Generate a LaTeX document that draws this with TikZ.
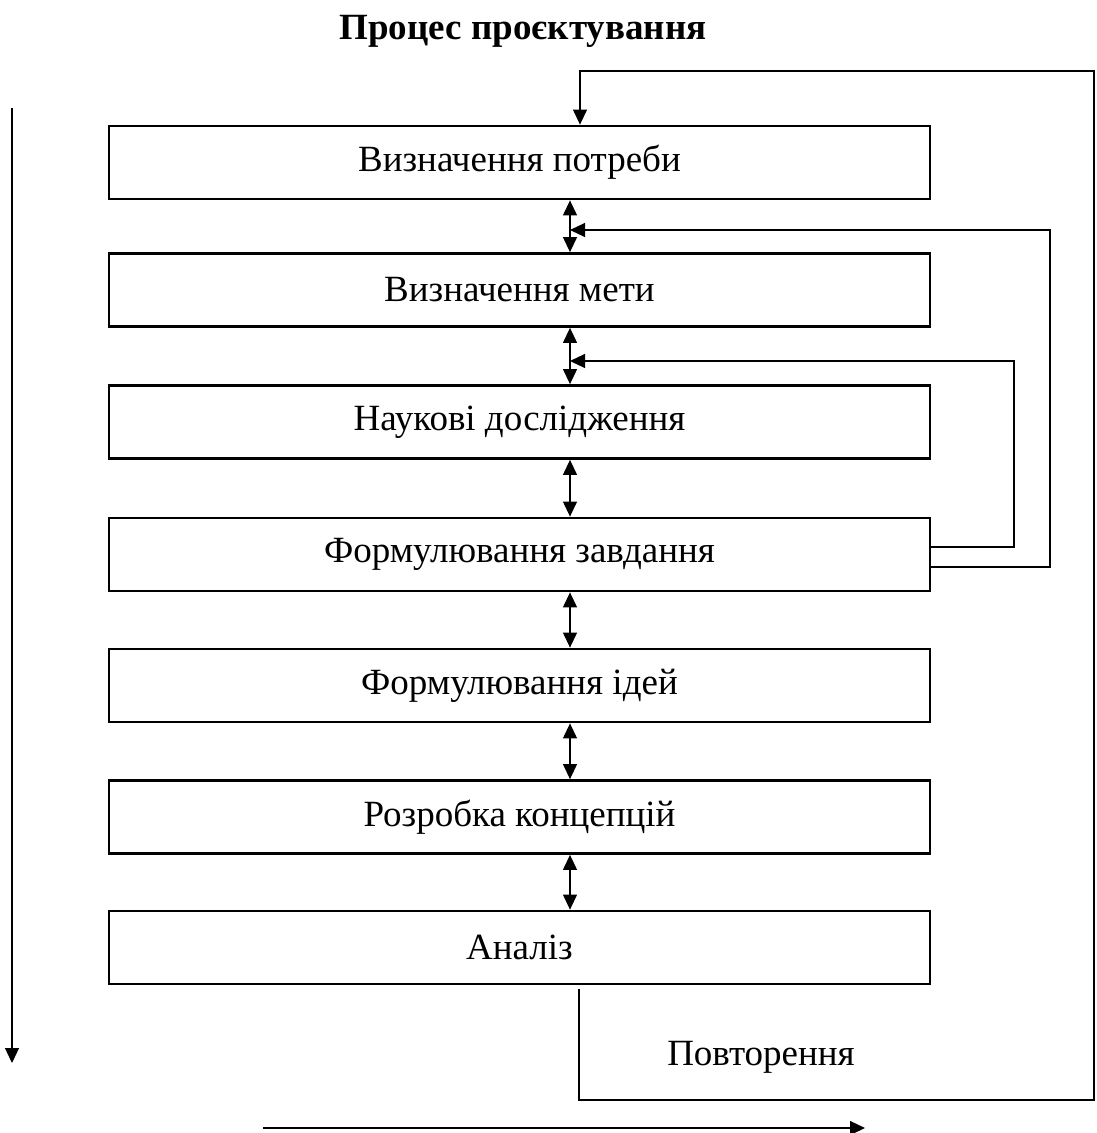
\documentclass[tikz,border=0pt]{standalone}
\usepackage{fontspec}
\setmainfont{Liberation Serif}
\usetikzlibrary{arrows.meta,calc}
\begin{document}
\begin{tikzpicture}[x=1pt,y=-1pt,
  stage/.style={draw,line width=2.8pt,minimum width=821pt,minimum height=73pt,inner sep=0pt,font=\fontsize{37}{40}\selectfont},
  conn/.style={line width=1.2pt},
  tip/.style={-{Triangle[length=15pt,width=14pt]}},
  dtip/.style={{Triangle[length=15pt,width=14pt]}-{Triangle[length=15pt,width=14pt]}}]
\useasboundingbox (0,0) rectangle (1096,1133);
\node[font=\bfseries\fontsize{37}{40}\selectfont] (title) at (523,31) {Процес проєктування};
\node[stage] (b1) at (519.5,162.5) {Визначення потреби};
\node[stage] (b2) at (519.5,290) {Визначення мети};
\node[stage] (b3) at (519.5,422) {Наукові дослідження};
\node[stage] (b4) at (519.5,554.5) {Формулювання завдання};
\node[stage] (b5) at (519.5,685.5) {Формулювання ідей};
\node[stage] (b6) at (519.5,817) {Розробка концепцій};
\node[stage] (b7) at (519.5,947.5) {Аналіз};
\node[font=\fontsize{37}{40}\selectfont] (rep) at (761,1057) {Повторення};
\coordinate (ax) at (570,0);
\coordinate (rx) at (580,0);
\foreach \a/\b in {b1/b2,b2/b3,b3/b4,b4/b5,b5/b6,b6/b7}
  \draw[conn,dtip] (\a.south -| ax) -- (\b.north -| ax);
\coordinate (f1) at (1014,361);
\coordinate (f2) at (1050,230);
\draw[conn,tip] (b4.east |- 0,547) -| (f1) -- (f1 -| ax);
\draw[conn,tip] (b4.east |- 0,567) -| (f2) -- (f2 -| ax);
\coordinate (r1) at (579,1100);
\coordinate (r2) at (1094,71);
\draw[conn,tip] (b7.south -| r1) ++(0,4) -- (r1) -| (r2) -- (r2 -| rx) -- (b1.north -| rx);
\coordinate (l1) at (12,108);
\coordinate (l2) at (12,1063);
\draw[conn,tip] (l1) -- (l2);
\coordinate (h1) at (263,1128);
\coordinate (h2) at (865,1128);
\draw[conn,tip] (h1) -- (h2);
\end{tikzpicture}
\end{document}
